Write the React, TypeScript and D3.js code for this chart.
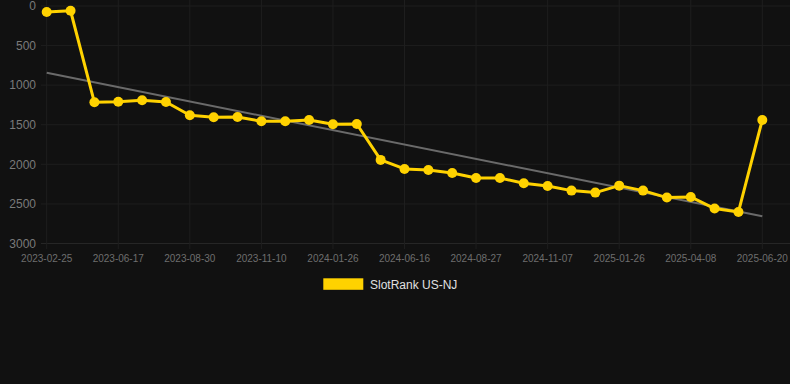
import { useEffect, useRef } from "react";
import * as d3 from "d3";

// category dates (only every third one is labelled on the axis)
const dates = [
  "2023-02-25", "2023-04-08", "2023-05-13",
  "2023-06-17", "2023-07-11", "2023-08-05",
  "2023-08-30", "2023-09-23", "2023-10-17",
  "2023-11-10", "2023-12-06", "2024-01-01",
  "2024-01-26", "2024-03-10", "2024-05-03",
  "2024-06-16", "2024-07-10", "2024-08-03",
  "2024-08-27", "2024-09-20", "2024-10-14",
  "2024-11-07", "2024-12-03", "2024-12-30",
  "2025-01-26", "2025-02-19", "2025-03-15",
  "2025-04-08", "2025-05-02", "2025-05-26",
  "2025-06-20",
];

const ranks = [
  75, 60, 1216, 1210, 1191, 1212, 1380, 1405, 1401, 1456, 1456, 1439, 1494,
  1490, 1944, 2058, 2071, 2109, 2172, 2172, 2239, 2273, 2332, 2357, 2269,
  2332, 2420, 2412, 2559, 2601, 1439,
];

const yTicks = [0, 500, 1000, 1500, 2000, 2500, 3000];
const seriesName = "SlotRank US-NJ";

const App = () => {
  const ref = useRef<SVGSVGElement | null>(null);

  useEffect(() => {
    if (!ref.current) return;
    const width = 790,
      height = 384;
    const svg = d3.select(ref.current);
    svg.selectAll("*").remove();

    svg
      .append("rect")
      .attr("width", width)
      .attr("height", height)
      .attr("fill", "#111111");

    const x = d3.scalePoint<string>().domain(dates).range([46.7, 762.3]);
    const y = d3.scaleLinear().domain([0, 3000]).range([6, 243.5]);

    // grid
    const grid = svg.append("g");
    grid
      .selectAll("line.h")
      .data(yTicks)
      .enter()
      .append("line")
      .attr("x1", 41)
      .attr("x2", width)
      .attr("y1", (d) => y(d))
      .attr("y2", (d) => y(d))
      .attr("stroke", (d) => (d === 3000 ? "#262626" : "#1e1e1e"))
      .attr("stroke-width", 1);

    const labelled = dates.filter((_, i) => i % 3 === 0);
    grid
      .selectAll("line.v")
      .data(labelled)
      .enter()
      .append("line")
      .attr("x1", (d) => x(d)!)
      .attr("x2", (d) => x(d)!)
      .attr("y1", 0)
      .attr("y2", 249)
      .attr("stroke", "#1e1e1e")
      .attr("stroke-width", 1);

    // y labels
    svg
      .append("g")
      .selectAll("text")
      .data(yTicks)
      .enter()
      .append("text")
      .attr("x", 36)
      .attr("y", (d) => y(d))
      .attr("dy", "0.35em")
      .attr("text-anchor", "end")
      .attr("fill", "#7a7a7a")
      .style("font", "12px 'Liberation Sans', Arial, sans-serif")
      .text((d) => d);

    // x labels
    svg
      .append("g")
      .selectAll("text")
      .data(labelled)
      .enter()
      .append("text")
      .attr("x", (d) => x(d)!)
      .attr("y", 262)
      .attr("text-anchor", "middle")
      .attr("fill", "#6e6e6e")
      .style("font", "10px 'Liberation Sans', Arial, sans-serif")
      .text((d) => d);

    // trend line (least squares over index)
    const n = ranks.length;
    const idx = d3.range(n);
    const mx = d3.mean(idx)!;
    const my = d3.mean(ranks)!;
    const slope =
      d3.sum(idx, (i) => (i - mx) * (ranks[i] - my)) /
      d3.sum(idx, (i) => (i - mx) * (i - mx));
    const icpt = my - slope * mx;
    svg
      .append("line")
      .attr("x1", x(dates[0])!)
      .attr("y1", y(icpt))
      .attr("x2", x(dates[n - 1])!)
      .attr("y2", y(icpt + slope * (n - 1)))
      .attr("stroke", "#6a6a6a")
      .attr("stroke-width", 2);

    const line = d3
      .line<number>()
      .x((_, i) => x(dates[i])!)
      .y((d) => y(d));

    svg
      .append("path")
      .datum(ranks)
      .attr("fill", "none")
      .attr("stroke", "#ffd200")
      .attr("stroke-width", 3)
      .attr("stroke-linejoin", "round")
      .attr("d", line);

    svg
      .append("g")
      .selectAll("circle")
      .data(ranks)
      .enter()
      .append("circle")
      .attr("cx", (_, i) => x(dates[i])!)
      .attr("cy", (d) => y(d))
      .attr("r", 5)
      .attr("fill", "#ffd200");

    // legend
    const lg = svg.append("g");
    lg.append("rect")
      .attr("x", 323.3)
      .attr("y", 278.3)
      .attr("width", 40)
      .attr("height", 11.5)
      .attr("fill", "#ffd200");
    lg.append("text")
      .attr("x", 370)
      .attr("y", 289)
      .attr("fill", "#e0e0e0")
      .style("font", "12px 'Liberation Sans', Arial, sans-serif")
      .text(seriesName);
  }, []);

  return (
    <svg
      ref={ref}
      width={790}
      height={384}
      style={{ position: "absolute", left: 0, top: 0, display: "block" }}
    />
  );
};

export default App;
